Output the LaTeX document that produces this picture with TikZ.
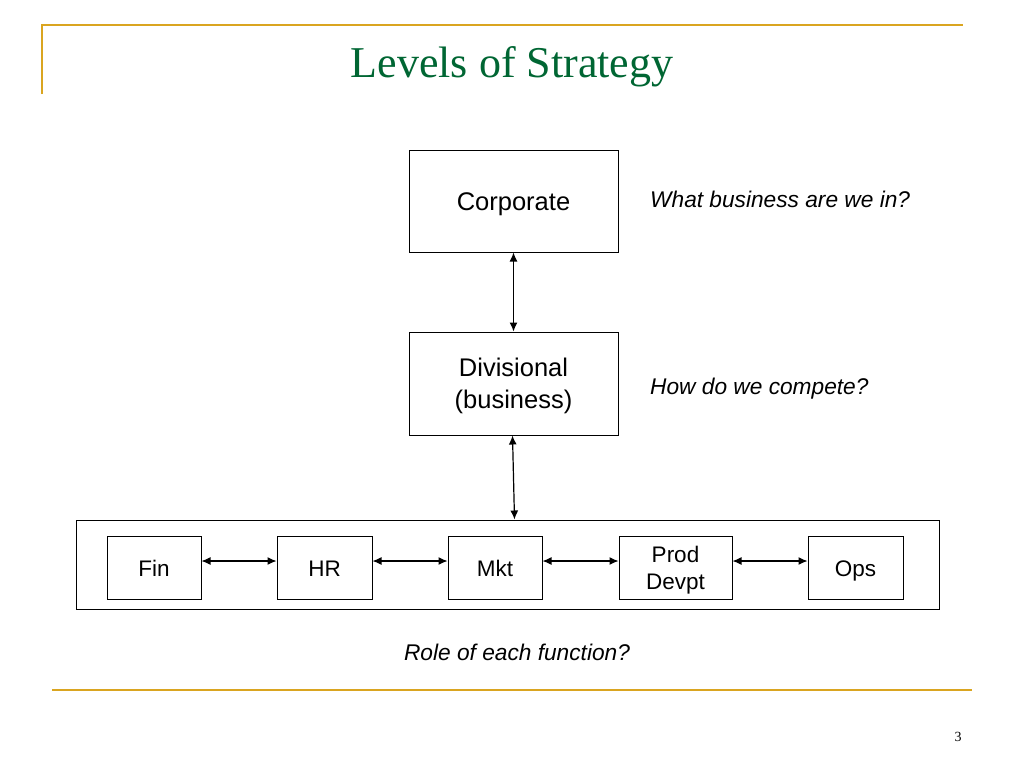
\documentclass[tikz,border=0pt]{standalone}
\usepackage{fontspec}
\setmainfont{Liberation Sans}
\newfontfamily\serifface{Liberation Serif}
\usetikzlibrary{arrows.meta}
\definecolor{gold}{RGB}{218,165,32}
\definecolor{titlegreen}{RGB}{0,102,51}
\tikzset{
  bigbox/.style={draw=black,line width=1pt,inner sep=0pt,minimum width=209pt,minimum height=102pt,align=center,font=\fontsize{25.5}{32}\selectfont,text height=18.3pt,text depth=0pt},
  funcbox/.style={draw=black,line width=1pt,inner sep=0pt,minimum height=63pt,align=center,font=\fontsize{22.5}{27}\selectfont,text height=16.1pt,text depth=0pt},
  conn/.style={line width=1.2pt,{Latex[length=9pt,width=8pt]}-{Latex[length=9pt,width=8pt]}},
  note/.style={font=\fontsize{22.7}{26}\selectfont\itshape,inner sep=0pt,text height=16.3pt,text depth=0pt},
  rule/.style={draw=gold,line width=2pt}
}
\begin{document}
\begin{tikzpicture}[x=1pt,y=-1pt]
\useasboundingbox (0,0) rectangle (1024,768);
% decoration
\coordinate (tl) at (42,25);
\coordinate (tr) at (963,25);
\coordinate (lb) at (42,94);
\coordinate (bl) at (52,690);
\coordinate (br) at (972,690);
\draw[rule] (lb) -- (tl) -- (tr);
\draw[rule] (bl) -- (br);
\node[text=titlegreen,font=\serifface\fontsize{44}{48}\selectfont,inner sep=0pt] (title) at (512,67) {Levels of Strategy};
\node[font=\serifface\fontsize{14}{16}\selectfont,inner sep=0pt] (pnum) at (958,737) {3};
% main boxes
\node[bigbox] (corp) at (513.5,201) {Corporate};
\node[bigbox,minimum height=103pt,text height=50.3pt] (div) at (513.5,383.5) {Divisional\\(business)};
\node[draw=black,line width=1pt,inner sep=0pt,minimum width=863pt,minimum height=89pt] (cont) at (507.5,564.5) {};
% functions
\node[funcbox,minimum width=94pt] (fin) at (154,568) {Fin};
\node[funcbox,minimum width=95pt] (hr) at (324.5,568) {HR};
\node[funcbox,minimum width=94pt] (mkt) at (495,568) {Mkt};
\node[funcbox,minimum width=113pt,text height=43.1pt] (prod) at (675.5,568) {Prod\\Devpt};
\node[funcbox,minimum width=95pt] (ops) at (855.5,568) {Ops};
% notes
\node[note,anchor=west] (q1) at (650,199) {What business are we in?};
\node[note,anchor=west] (q2) at (650,386) {How do we compete?};
\node[note] (q3) at (517,652) {Role of each function?};
% connectors
\draw[conn] (corp.south) -- (div.north);
\draw[conn] ([xshift=-1pt]div.south) -- ([xshift=1pt]div.south |- cont.north);
\draw[conn] (fin.east |- 0,561) -- (hr.west |- 0,561);
\draw[conn] (hr.east |- 0,561) -- (mkt.west |- 0,561);
\draw[conn] (mkt.east |- 0,561) -- (prod.west |- 0,561);
\draw[conn] (prod.east |- 0,561) -- (ops.west |- 0,561);
\end{tikzpicture}
\end{document}
